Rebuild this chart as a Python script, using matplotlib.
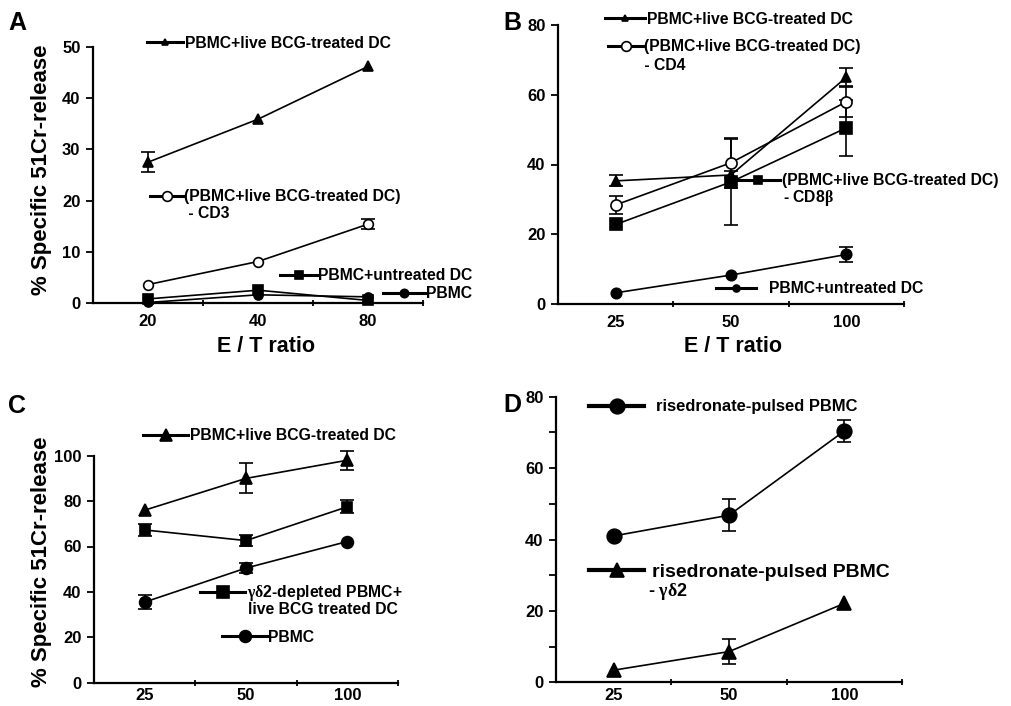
import numpy as np
import matplotlib
matplotlib.use("Agg")
import matplotlib.pyplot as plt
from matplotlib.lines import Line2D

plt.rcParams['font.family'] = ['Liberation Sans', 'DejaVu Sans']
plt.rcParams['font.weight'] = 'bold'
plt.rcParams['mathtext.fontset'] = 'custom'
plt.rcParams['mathtext.rm'] = 'Liberation Serif'
plt.rcParams['mathtext.it'] = 'Liberation Serif'

# ---- data ----
ticks_a = ['20', '40', '80']
ticks_bcd = ['25', '50', '100']

a_bcg = [27.5, 35.9, 46.2]
a_bcg_err = [1.9, np.nan, np.nan]
a_cd3 = [3.6, 8.1, 15.4]
a_cd3_err = [np.nan, np.nan, 1.0]
a_untreated = [0.8, 2.5, 0.5]
a_pbmc = [0.1, 1.6, 1.2]

b_bcg = [35.3, 37.0, 65.0]
b_bcg_err = [1.6, 1.0, 2.8]
b_cd4 = [28.4, 40.5, 58.0]
b_cd4_err = [2.5, 7.2, 4.5]
b_cd8 = [22.8, 35.0, 50.5]
b_cd8_err = [np.nan, 12.4, 8.0]
b_untreated = [3.2, 8.3, 14.2]
b_untreated_err = [np.nan, np.nan, 2.2]

c_bcg = [76.0, 90.0, 98.0]
c_bcg_err = [np.nan, 6.6, 4.2]
c_gd2 = [67.3, 62.6, 77.5]
c_gd2_err = [2.5, 2.5, 2.8]
c_pbmc = [35.5, 50.5, 62.2]
c_pbmc_err = [3.2, 2.3, np.nan]

d_ris = [41.0, 46.8, 70.4]
d_ris_err = [np.nan, 4.5, 3.2]
d_gd2 = [3.4, 8.6, 22.1]
d_gd2_err = [np.nan, 3.6, np.nan]

W, H = 1011, 706
fig = plt.figure(figsize=(W / 100, H / 100), dpi=100)
FS = 11.3  # legend text size


def px(x, y):
    return x / W, 1 - y / H


def make_axes(left, top, right, bottom, ymax, ystep, labels, yminor=None, xpad=8):
    x0, y1 = px(left, top)
    x1, y0 = px(right, bottom)
    ax = fig.add_axes([x0, y0, x1 - x0, y1 - y0])
    ax.set_xlim(0.5, 3.5)
    ax.set_ylim(0, ymax)
    ax.spines['top'].set_visible(False)
    ax.spines['right'].set_visible(False)
    for s in ('left', 'bottom'):
        ax.spines[s].set_linewidth(1.6)
    ax.set_yticks(np.arange(0, ymax + 1, ystep))
    ax.set_xticks([1, 2, 3])
    ax.set_xticklabels(labels)
    ax.set_xticks([1.5, 2.5, 3.5], minor=True)
    ax.tick_params(axis='x', which='major', length=0, pad=xpad, labelsize=12)
    ax.tick_params(axis='x', which='minor', direction='inout', length=5, width=1.3)
    ax.tick_params(axis='y', which='major', direction='out', length=5, width=1.3,
                   labelsize=12, pad=4)
    if yminor is not None:
        ax.set_yticks(yminor, minor=True)
        ax.tick_params(axis='y', which='minor', direction='out', length=5, width=1.3)
    return ax


def series(ax, y, err, marker, ms, face='black'):
    x = [1, 2, 3]
    ax.errorbar(x, y, yerr=err, fmt='none', ecolor='black', elinewidth=1.2,
                capsize=5, capthick=1.2, zorder=2, clip_on=False)
    ax.plot(x, y, color='black', lw=1.2, marker=marker, ms=ms, mfc=face,
            mec='black', mew=1.2, zorder=3, clip_on=False)


def key(marker, ms, label, x, y, x_end, fs=FS, face='black', lw=2.2, pad=0.15):
    h = Line2D([], [], color='black', lw=lw, marker=marker, ms=ms, mfc=face,
               mec='black', mew=1.2)
    hl = (x_end - x) / (fs * 100 / 72)
    fig.legend([h], [label], loc='center left', bbox_to_anchor=px(x, y),
               bbox_transform=fig.transFigure, frameon=False, borderpad=0,
               borderaxespad=0, handlelength=hl, handletextpad=pad,
               prop={'weight': 'bold', 'size': fs})


def ftext(x, y, s, **kw):
    fx, fy = px(x, y)
    fig.text(fx, fy, s, **kw)


# ---- panel A ----
axA = make_axes(93, 47, 423, 303, 50, 10, ticks_a)
series(axA, a_bcg, a_bcg_err, '^', 7)
series(axA, a_cd3, a_cd3_err, 'o', 7, face='white')
series(axA, a_untreated, None, 's', 6.5)
series(axA, a_pbmc, None, 'o', 6.5)
key('^', 5, 'PBMC+live BCG-treated DC', 147, 43, 183)
key('o', 7, '(PBMC+live BCG-treated DC)', 150, 197, 183, face='white', pad=0.05)
ftext(184, 214, ' - CD3', fontsize=FS, va='center', ha='left')
key('s', 6, 'PBMC+untreated DC', 280, 276, 317, pad=0.05)
key('o', 6, 'PBMC', 383, 294, 425, pad=0.05)

# ---- panel B ----
axB = make_axes(558, 25, 904, 304, 80, 20, ticks_bcd)
series(axB, b_bcg, b_bcg_err, '^', 7)
series(axB, b_cd4, b_cd4_err, 'o', 8, face='white')
series(axB, b_cd8, b_cd8_err, 's', 9)
series(axB, b_untreated, b_untreated_err, 'o', 7.5)
key('^', 5, 'PBMC+live BCG-treated DC', 605, 19, 645)
key('o', 7, '(PBMC+live BCG-treated DC)', 608, 47, 643, face='white', pad=0.05)
ftext(640, 66, ' - CD4', fontsize=FS, va='center', ha='left')
key('s', 6, '(PBMC+live BCG-treated DC)', 735, 181, 780, pad=0.1)
ftext(783, 198, r'- CD8$\beta$', fontsize=FS, va='center', ha='left')
key('o', 5, 'PBMC+untreated DC', 716, 289, 756, pad=0.85)

# ---- panel C ----
axC = make_axes(94, 455.7, 398, 682.7, 100, 20, ticks_bcd, xpad=4)
series(axC, c_bcg, c_bcg_err, '^', 8)
series(axC, c_gd2, c_gd2_err, 's', 7)
series(axC, c_pbmc, c_pbmc_err, 'o', 8.5)
key('^', 8, 'PBMC+live BCG-treated DC', 143, 436, 188)
key('s', 8, r'$\gamma\delta$2-depleted PBMC+', 200, 593, 245, pad=0.1)
ftext(248, 610, 'live BCG treated DC', fontsize=FS, va='center', ha='left')
key('o', 8.5, 'PBMC', 222, 637, 267, pad=0.05)

# ---- panel D ----
axD = make_axes(556, 396.7, 902, 682.3, 80, 20, ticks_bcd, yminor=[10, 30, 50, 70], xpad=4)
series(axD, d_ris, d_ris_err, 'o', 10.5)
series(axD, d_gd2, d_gd2_err, '^', 10.5)
key('o', 10.5, 'risedronate-pulsed PBMC', 589, 407, 644, fs=11.9, lw=3, pad=0.7)
key('^', 10.5, 'risedronate-pulsed PBMC', 589, 572, 644, fs=14, lw=3, pad=0.4)
ftext(648, 591, r'- $\gamma\delta$2', fontsize=13, va='center', ha='left')

# ---- axis labels and panel letters ----
ftext(42, 170, '% Specific 51Cr-release', fontsize=16, rotation=90, va='center', ha='center')
ftext(42, 562, '% Specific 51Cr-release', fontsize=16, rotation=90, va='center', ha='center')
ftext(266, 346, 'E / T ratio', fontsize=15.5, va='center', ha='center')
ftext(733, 346, 'E / T ratio', fontsize=15.5, va='center', ha='center')
ftext(8, 23, 'A', fontsize=18, va='center', ha='left')
ftext(503, 23, 'B', fontsize=18, va='center', ha='left')
ftext(8, 406, 'C', fontsize=18, va='center', ha='left')
ftext(503, 405, 'D', fontsize=18, va='center', ha='left')

fig.savefig('out.png', dpi=100)
